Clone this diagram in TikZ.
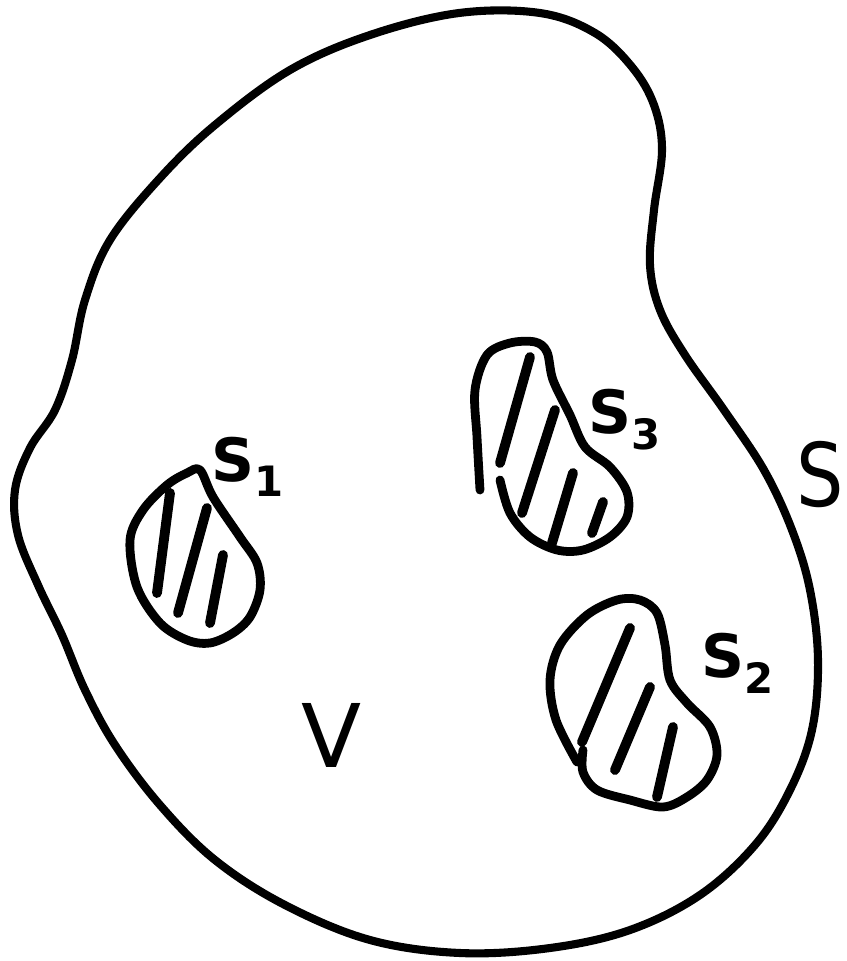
\documentclass[tikz,border=0pt]{standalone}
\usepackage{fontspec}
\setmainfont{DejaVu Sans}

\begin{document}
\begin{tikzpicture}[
    x=0.02cm, y=-0.02cm,
    rim/.style={line width=4.6pt, line join=round, line cap=round},
    patch/.style={line width=5pt, line join=round, line cap=round},
    hatch/.style={line width=5.6pt, line cap=round},
    tag/.style={font=\fontsize{34}{38}\selectfont\bfseries, inner sep=0pt},
    bigtag/.style={font=\fontsize{50}{54}\selectfont, inner sep=0pt},
]
\useasboundingbox (0,0) rectangle (846,961);

% =============================================================================
% Outer surface S enclosing the volume V
% =============================================================================
\draw[rim] plot[smooth cycle, tension=0.6] coordinates {
    (459,13) (540,13) (595,33) (632,67) (654,105) (662,150) (654,210)
    (650,265) (660,310) (685,355) (724,410) (764,470) (792,530) (810,590)
    (818,660) (812,730) (790,790) (755,845) (700,895) (630,930) (550,948)
    (460,953) (370,940) (285,905) (215,860) (160,805) (115,745) (85,690)
    (62,635) (38,585) (18,535) (15,490) (30,448) (55,410) (72,360)
    (85,300) (110,240) (160,178) (215,125) (290,70) (370,35)};

% =============================================================================
% Excluded regions
% =============================================================================

% --- S1 ---
\draw[patch] plot[smooth cycle, tension=0.55] coordinates {
    (200,470) (213,497) (240,537) (257,563) (260,590) (250,617) (233,633)
    (210,643) (187,640) (160,623) (137,587) (130,540) (143,510) (167,485)
    (187,473)};
\draw[hatch] (170,493) -- (157,593);
\draw[hatch] (207,508) -- (178,613);
\draw[hatch] (223,555) -- (210,623);

% --- S3 ---
\draw[patch] plot[smooth, tension=0.55] coordinates {
    (480,490) (477,437) (475,390) (487,355) (510,343) (535,342) (547,352)
    (553,380) (570,415) (585,447) (610,467) (627,492) (627,517) (610,537)
    (583,550) (557,550) (530,537) (510,513) (500,480)};
\draw[hatch] (530,357) -- (500,463);
\draw[hatch] (555,410) -- (522,513);
\draw[hatch] (573,473) -- (552,543);
\draw[hatch] (603,502) -- (592,533);

% --- S2 ---
\draw[patch] plot[smooth, tension=0.55] coordinates {
    (577,762) (556,720) (550,680) (560,645) (587,615) (617,600) (640,600)
    (657,613) (665,645) (670,680) (687,703) (710,727) (717,755) (707,780)
    (687,797) (663,807) (630,800) (597,790) (583,772) (583,750)};
\draw[hatch] (630,628) -- (582,742);
\draw[hatch] (650,687) -- (615,770);
\draw[hatch] (673,727) -- (657,797);

% =============================================================================
% Labels
% =============================================================================
\node[tag] (lblSone) at (248,467) {S\textsubscript{1}};
\node[tag] (lblSthree) at (625,420) {S\textsubscript{3}};
\node[tag] (lblStwo) at (738,663) {S\textsubscript{2}};
\node[bigtag, anchor=east, xscale=0.85] (lblS) at (844,475) {S};
\node[bigtag] (lblV) at (332,735) {V};

\end{tikzpicture}
\end{document}
